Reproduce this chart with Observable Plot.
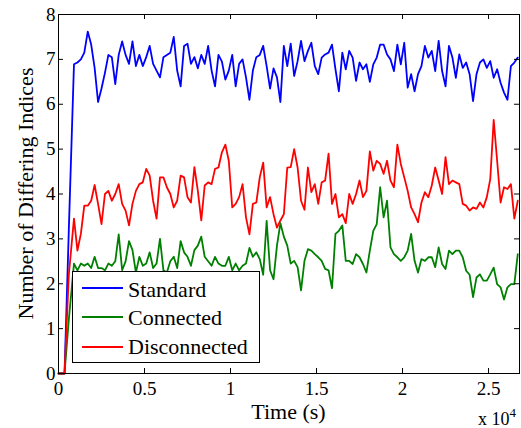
<!DOCTYPE html>
<html><head><meta charset="utf-8">
<script src="https://cdn.jsdelivr.net/npm/d3@7"></script>
<script src="https://cdn.jsdelivr.net/npm/@observablehq/plot@0.6"></script>
<style>
html,body{margin:0;padding:0;background:#fff;}
#wrap{position:relative;width:521px;height:428px;font-family:"Liberation Serif","Times New Roman",serif;}
#wrap svg{display:block;}
#legend{position:absolute;left:72px;top:271px;width:186px;height:90px;border:1px solid #000;background:#fff;}
.sw{position:absolute;left:9px;width:41px;height:0;border-top:2px solid;}
.lab{position:absolute;left:55px;font-size:22px;line-height:22px;white-space:nowrap;color:#000;}
</style></head>
<body>
<div id="wrap"></div>
<script>
// Time samples (s)
const startTimes = [0, 350, 600];
const times = startTimes.concat(d3.range(900, 26701, 200));

const seriesNames = ["Standard", "Connected", "Disconnected"];
const seriesColors = ["#0000ff", "#008000", "#ff0000"];

const standard = [0, 0, 3.2, 6.89,
 6.93, 7.0, 7.15, 7.62, 7.33, 6.81, 6.05, 6.35, 6.7, 7.1,
 7.05, 6.45, 7.1, 7.4, 7.1, 6.9, 7.4, 6.85, 7.1, 6.85,
 7.05, 7.3, 6.9, 6.75, 6.6, 7.05, 7.1, 7.15, 7.5, 6.75,
 6.4, 7.3, 7.35, 6.9, 7.05, 6.8, 7.1, 6.9, 7.3, 6.75,
 6.4, 7.1, 6.95, 6.55, 6.75, 7.1, 6.4, 6.9, 7.0, 6.6,
 6.1, 6.75, 7.05, 7.1, 7.3, 6.85, 6.35, 6.8, 6.6, 6.05,
 7.3, 6.85, 7.35, 6.63, 6.96, 7.41, 6.96, 7.19, 7.37, 6.85,
 6.67, 7.04, 7.11, 7.15, 7.33, 6.78, 6.29, 7.15, 6.78, 7.19,
 7.04, 6.52, 6.93, 6.78, 6.89, 6.5, 6.89, 7.04, 7.33, 7.33,
 7.11, 7.0, 6.74, 7.33, 6.89, 7.37, 6.37, 6.67, 6.29, 6.67,
 6.85, 7.3, 7.04, 7.19, 6.74, 7.41, 6.74, 6.4, 7.3, 7.04,
 6.59, 7.11, 6.81, 6.93, 6.67, 6.07, 6.67, 6.93, 7.0, 6.81,
 6.96, 6.59, 6.78, 6.48, 6.26, 6.1, 6.85, 6.93, 7.04];

const connected = [0, 0, 1.2, 2.45,
 2.3, 2.45, 2.4, 2.45, 2.35, 2.6, 2.35, 2.35, 2.3, 2.45,
 2.4, 2.5, 3.1, 2.3, 2.5, 2.95, 2.75, 2.25, 2.6, 2.4,
 2.45, 2.7, 2.35, 2.45, 3.0, 2.3, 2.25, 2.5, 2.6, 2.35,
 2.95, 2.7, 2.6, 2.4, 2.75, 2.85, 3.05, 2.6, 2.5, 2.4,
 2.6, 2.45, 2.4, 2.4, 2.6, 2.3, 2.45, 2.3, 2.4, 2.45,
 2.8, 2.6, 2.7, 2.55, 2.2, 3.4, 2.3, 2.1, 2.85, 3.35,
 3.05, 2.85, 2.45, 2.51, 2.37, 1.85, 2.51, 2.77, 2.74, 2.66,
 2.59, 2.51, 2.33, 2.3, 1.9, 3.11, 3.18, 3.3, 2.51, 2.51,
 2.44, 2.66, 2.59, 2.44, 2.25, 2.74, 3.18, 3.33, 4.15, 3.48,
 3.85, 2.81, 2.66, 2.59, 2.51, 2.59, 2.74, 3.11, 2.51, 2.25,
 2.55, 2.51, 2.59, 2.59, 2.37, 2.81, 2.44, 2.33, 2.74, 2.66,
 2.74, 2.74, 2.59, 2.29, 2.2, 1.7, 2.14, 2.21, 2.07, 2.07,
 2.21, 2.36, 1.99, 1.92, 1.65, 1.92, 1.99, 1.99, 2.66];

const disconnected = [0, 0, 2.2, 3.45,
 2.74, 3.11, 3.74, 3.74, 3.85, 4.2, 3.78, 3.33, 4.0, 4.07,
 3.85, 4.0, 4.22, 3.78, 3.63, 3.3, 3.78, 4.07, 4.22, 4.26,
 4.56, 4.41, 3.85, 3.45, 4.37, 4.37, 4.15, 4.0, 3.7, 3.85,
 4.41, 4.37, 3.93, 3.81, 4.6, 4.07, 3.41, 4.19, 4.26, 4.22,
 4.56, 4.59, 4.93, 5.1, 4.74, 3.7, 3.78, 3.93, 4.22, 3.48,
 3.1, 3.78, 3.81, 4.37, 4.7, 3.7, 3.93, 3.55, 3.25, 3.41,
 3.55, 4.59, 4.6, 5.0, 4.59, 3.85, 3.65, 4.59, 4.04, 4.22,
 3.78, 4.26, 4.3, 4.9, 3.78, 4.0, 3.48, 3.55, 3.35, 4.0,
 3.78, 4.0, 4.3, 3.93, 4.07, 4.95, 4.52, 4.74, 4.67, 4.45,
 4.74, 4.3, 4.15, 5.1, 4.67, 4.37, 4.07, 3.7, 3.55, 3.37,
 3.81, 4.04, 3.93, 4.19, 4.59, 4.3, 4.0, 4.82, 4.22, 4.3,
 4.26, 4.22, 3.78, 3.74, 3.63, 3.7, 3.67, 3.81, 3.7, 3.93,
 4.33, 5.65, 4.74, 3.81, 4.15, 4.11, 4.22, 3.45, 3.85];

const xTicks = [0, 5000, 10000, 15000, 20000, 25000];
const yTicks = [0, 1, 2, 3, 4, 5, 6, 7, 8];

const allSeries = [standard, connected, disconnected];
const rows = allSeries.map(vals => times.map((t, i) => ({t, v: vals[i]})));

const W = 521, H = 428, mt = 14, mb = 55, ml = 58, mr = 2;
const innerH = H - mt - mb, innerW = W - ml - mr, tl = 5;

const svg = Plot.plot({
  width: W, height: H,
  marginTop: mt, marginBottom: mb, marginLeft: ml, marginRight: mr,
  style: {fontFamily: "Liberation Serif, Times New Roman, serif", fontSize: "19px", background: "white", color: "black", overflow: "visible"},
  x: {domain: [0, 26800]},
  y: {domain: [0, 8]},
  marks: [
    ...rows.map((r, k) => Plot.line(r, {x: "t", y: "v", stroke: seriesColors[k], strokeWidth: 1.8, strokeLinejoin: "round"})),
    Plot.tickX(xTicks, {x: d => d, insetTop: innerH - tl, stroke: "black"}),
    Plot.tickX(xTicks, {x: d => d, insetBottom: innerH - tl, stroke: "black"}),
    Plot.tickY(yTicks, {y: d => d, insetRight: innerW - tl, stroke: "black"}),
    Plot.tickY(yTicks, {y: d => d, insetLeft: innerW - tl, stroke: "black"}),
    Plot.frame({stroke: "black", strokeWidth: 1}),
    Plot.axisX(xTicks, {tickSize: 0, tickPadding: 8, tickFormat: d => String(d / 1e4), label: null, fontSize: 19}),
    Plot.axisY(yTicks, {tickSize: 0, tickPadding: 3, label: null, fontSize: 19})
  ]
});

const s = d3.select(svg);
s.append("text").attr("x", ml + innerW / 2).attr("y", 419).attr("text-anchor", "middle")
  .attr("font-size", 22).attr("fill", "black").text("Time (s)");
s.append("text").attr("transform", `translate(33,${mt + innerH / 2}) rotate(-90)`).attr("text-anchor", "middle")
  .attr("font-size", 22).attr("fill", "black").text("Number of Differing Indices");
const ex = s.append("text").attr("x", 478).attr("y", 425).attr("text-anchor", "start")
  .attr("font-size", 18).attr("fill", "black");
ex.append("tspan").text("x 10");
ex.append("tspan").attr("font-size", 13).attr("dy", -8).text("4");

const wrap = document.getElementById("wrap");
wrap.appendChild(svg);

const leg = document.createElement("div");
leg.id = "legend";
const lineTops = [15, 44, 74];
const textTops = [7, 35, 64];
seriesNames.forEach((name, k) => {
  const sw = document.createElement("div");
  sw.className = "sw";
  sw.style.top = lineTops[k] + "px";
  sw.style.borderTopColor = seriesColors[k];
  leg.appendChild(sw);
  const lb = document.createElement("div");
  lb.className = "lab";
  lb.style.top = textTops[k] + "px";
  lb.textContent = name;
  leg.appendChild(lb);
});
wrap.appendChild(leg);
</script>
</body></html>
